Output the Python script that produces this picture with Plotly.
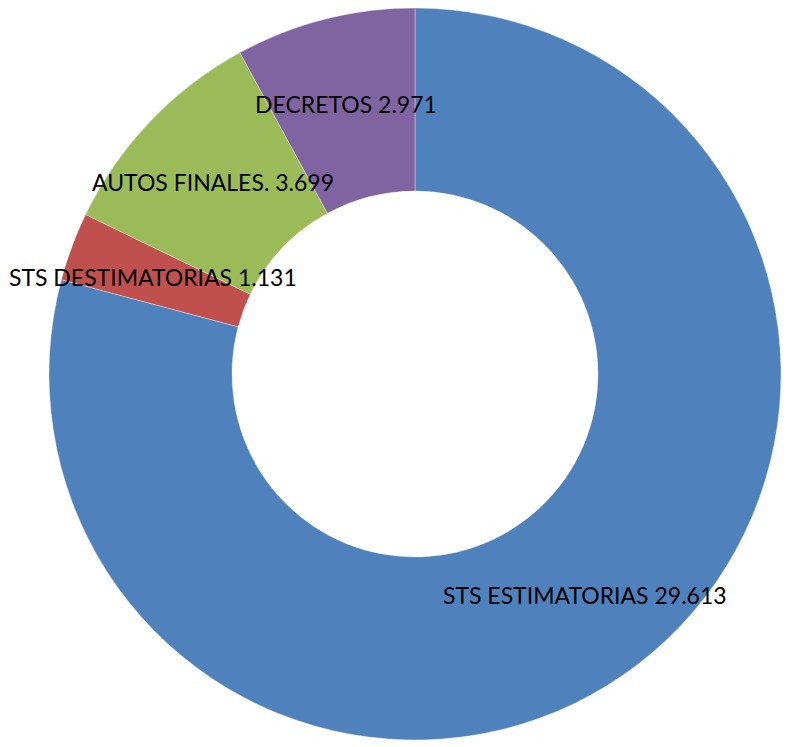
import numpy as np
import plotly.graph_objects as go

# data (values shown with "." as thousands separator)
labels = ["STS ESTIMATORIAS", "STS DESTIMATORIAS", "AUTOS FINALES.", "DECRETOS"]
values = [29613, 1131, 3699, 2971]
colors = ["#4F81BD", "#C0504D", "#9BBB59", "#8064A2"]

W, H = 789, 747
off = 8                    # page body margin of the html file
cx, cy = 415 - off, 374 - off   # pie centre in figure px
r_out = 366
hole = 0.5
r_label = 279              # radius where the labels sit

fig = go.Figure()
fig.add_trace(go.Pie(
    labels=labels,
    values=values,
    hole=hole,
    sort=False,
    direction="clockwise",
    rotation=0,
    marker=dict(colors=colors, line=dict(color="rgba(255,255,255,0.35)", width=1)),
    textinfo="none",
    hoverinfo="label+value",
    showlegend=False,
    domain=dict(x=[(cx - r_out) / W, (cx + r_out) / W],
                y=[max(0, 1 - (cy + r_out) / H), min(1, 1 - (cy - r_out) / H)]),
))

# labels at each slice's mid-angle
vals = np.array(values, dtype=float)
cum = np.cumsum(vals) - vals / 2
mid_ang = cum / vals.sum() * 2 * np.pi
for lab, v, a in zip(labels, values, mid_ang):
    px = cx + r_label * np.sin(a)
    py = cy - r_label * np.cos(a)
    txt = f"{lab} {v:,}".replace(",", ".")
    fig.add_annotation(
        x=px / W, y=1 - py / H, xref="paper", yref="paper",
        text=txt, showarrow=False,
        font=dict(family="Lato", size=23, color="black"),
        xanchor="center", yanchor="middle",
    )

fig.update_layout(
    width=W, height=H,
    margin=dict(l=0, r=0, t=0, b=0),
    paper_bgcolor="white",
    plot_bgcolor="white",
    separators=",.",
)

fig.write_html("out.html")
